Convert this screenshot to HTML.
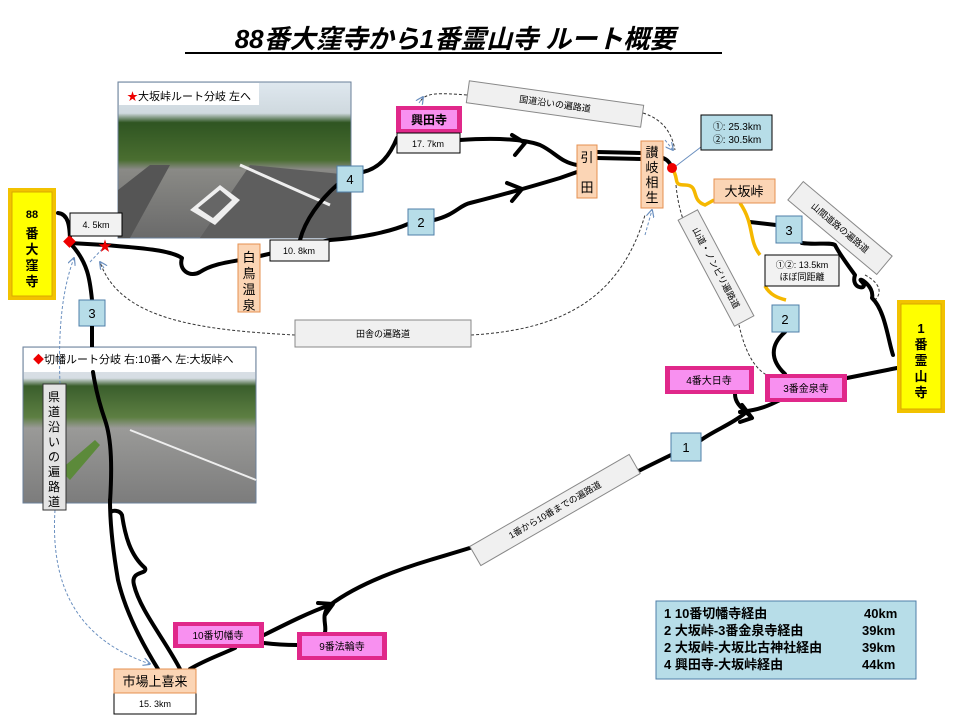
<!DOCTYPE html>
<html><head><meta charset="utf-8"><style>
html,body{margin:0;padding:0;background:#fff;}
svg{display:block;font-family:"Liberation Sans","Noto Sans CJK JP",sans-serif;}
</style></head><body>
<svg width="960" height="720" viewBox="0 0 960 720" xmlns="http://www.w3.org/2000/svg">
<defs>
<linearGradient id="sky" x1="0" y1="0" x2="0" y2="1">
<stop offset="0" stop-color="#dfe8ef"/><stop offset="0.2" stop-color="#cfd9df"/>
<stop offset="0.26" stop-color="#2f5522"/><stop offset="0.5" stop-color="#4a6e30"/>
<stop offset="0.56" stop-color="#8a8a86"/><stop offset="1" stop-color="#6a6a6a"/></linearGradient>
<linearGradient id="sky2" x1="0" y1="0" x2="0" y2="1">
<stop offset="0" stop-color="#e2e8ee"/><stop offset="0.2" stop-color="#d6dde3"/>
<stop offset="0.25" stop-color="#3a5e2c"/><stop offset="0.45" stop-color="#5d7f42"/>
<stop offset="0.52" stop-color="#9a9a98"/><stop offset="1" stop-color="#7c7c7c"/></linearGradient>
<marker id="ar" viewBox="0 0 10 10" refX="9" refY="5" markerWidth="8" markerHeight="8" orient="auto"><path d="M0,0 L10,5 L0,10" fill="none" stroke="#6a8fbf" stroke-width="1.5"/></marker>
</defs>

<text x="455" y="48" text-anchor="middle" font-size="26" font-weight="bold" font-style="italic">88番大窪寺から1番霊山寺  ルート概要</text>
<line x1="185" y1="53" x2="722" y2="53" stroke="#000" stroke-width="2"/>

<!-- photo 1 -->
<rect x="118" y="82" width="233" height="156" fill="url(#sky)" stroke="#6a7f99"/>
<path d="M118,190 L150,165 L170,165 L130,238 L118,238 Z" fill="#555"/>
<path d="M200,238 L250,165 L351,175 L351,238 Z" fill="#5e5e5e"/>
<path d="M190,210 L220,185 L240,200 L215,225 Z" fill="#eee"/><path d="M198,208 L220,190 L232,200 L213,218Z" fill="#666"/>
<path d="M240,165 L330,205" stroke="#eee" stroke-width="3"/>
<rect x="119" y="83" width="140" height="22" fill="#fff"/>
<text x="127" y="100" font-size="11"><tspan fill="#e00">★</tspan>大坂峠ルート分岐 左へ</text>

<!-- photo 2 -->
<rect x="23" y="347" width="233" height="156" fill="url(#sky2)" stroke="#6a7f99"/>
<path d="M130,430 L256,480" stroke="#eee" stroke-width="2"/>
<path d="M60,470 L95,440 L100,445 L70,480Z" fill="#5c8a3a"/>
<rect x="24" y="348" width="231" height="24" fill="#fff"/>
<text x="33" y="363" font-size="11"><tspan fill="#e00">◆</tspan>切幡ルート分岐 右:10番へ 左:大坂峠へ</text>

<!-- dashed connectors -->
<g fill="none" stroke="#333" stroke-width="1" stroke-dasharray="3,2">
<path d="M467,95 C440,93 425,92 420,102"/>
<path d="M643,113 C665,120 672,135 675,150"/>
<path d="M295,335 C200,330 120,320 100,262"/>
<path d="M471,335 C560,330 620,300 645,215"/>
<path d="M676,185 C680,230 700,250 705,270"/>
<path d="M737,315 C745,360 760,375 775,378"/>
<path d="M818,195 C810,195 805,205 800,210"/>
<path d="M865,275 C875,280 885,290 875,300"/>
</g>
<g fill="none" stroke="#6a8fbf" stroke-width="1" stroke-dasharray="3,2">
<path d="M60,384 C58,330 62,290 74,258" marker-end="url(#ar)"/>
<path d="M55,510 C50,590 80,640 150,664" marker-end="url(#ar)"/>
<path d="M90,262 L105,246"/>
<path d="M645,235 L652,210" marker-end="url(#ar)"/>
<path d="M419,103 L423,97" marker-end="url(#ar)"/>
<path d="M665,140 L673,150" marker-end="url(#ar)"/>
<path d="M104,268 L100,262" marker-end="url(#ar)"/>
</g>
<line x1="701" y1="147" x2="676" y2="166" stroke="#6a8fbf" stroke-width="1"/>

<!-- black roads -->
<g fill="none" stroke="#000" stroke-width="4" stroke-linecap="round" stroke-linejoin="round">
<path d="M58,213 C68,214 70,225 70,243 L105,245 C140,248 170,250 182,258 C178,270 190,278 200,272 C215,262 235,262 260,256 L330,240 C360,238 390,232 408,224 M434,220 C455,215 460,205 470,203 C490,198 520,190 560,178 L577,172"/>
<path d="M507,183 L522,189 L512,201"/>
<path d="M300,240 C305,220 320,200 337,185 M363,172 C380,168 390,155 397,138"/>
<path d="M460,140 C490,138 520,138 540,145 C555,152 560,162 577,165"/>
<path d="M512,135 L525,143 L515,155"/>
<path d="M597,152 L641,153 M597,158 L641,159 M663,158 C668,160 670,163 672,168"/>
<path d="M750,222 L776,225 M802,243 C815,245 830,242 835,245 C840,255 850,268 855,275 C850,290 870,290 862,282 C855,275 875,285 872,298 C885,310 888,340 893,355"/>
<path d="M785,332 C770,345 770,360 785,374 M847,378 L897,368"/>
<path d="M780,400 C770,405 760,410 740,412 M735,394 C735,405 745,410 752,418 M742,405 L752,418 L740,422"/>
<path d="M744,414 C730,425 715,430 701,440 M671,455 C640,470 620,480 545,520 C500,540 470,548 430,560 C380,575 350,590 330,605 C320,615 327,625 325,632"/>
<path d="M318,603 L333,604 L325,615"/>
<path d="M264,635 C290,622 310,612 330,605 M264,643 C280,645 290,645 297,645"/>
<path d="M235,648 C220,655 205,660 190,669"/>
<path d="M158,669 C140,640 125,610 118,580 C112,545 110,520 110,500"/>
<path d="M92,300 C90,280 88,262 70,243"/>
<path d="M180,669 C165,640 140,610 134,585 C130,570 148,575 145,568 C130,555 125,535 122,515 C120,510 112,510 111,512"/>
</g>
<!-- yellow -->
<path d="M672,168 C680,180 672,185 685,185 C700,185 690,200 705,205 L714,200 M740,203 C755,225 748,240 760,255 M765,286 C770,295 778,298 786,300" fill="none" stroke="#f5b800" stroke-width="3.5"/>
<circle cx="672" cy="168" r="5" fill="#e00"/>
<rect x="65" y="237" width="9" height="9" fill="#e00" transform="rotate(45 69.5 241.5)"/>
<text x="98" y="251" font-size="14" fill="#e00">★</text>

<!-- yellow temple boxes -->
<rect x="8" y="188" width="48" height="112" fill="#f2c200"/><rect x="12" y="192" width="40" height="104" fill="#ffff00" stroke="#d8a800"/>
<text x="32" y="218" font-size="11" font-weight="bold" text-anchor="middle">88</text>
<text x="32" y="238" font-size="13" font-weight="bold" text-anchor="middle">番</text>
<text x="32" y="254" font-size="13" font-weight="bold" text-anchor="middle">大</text>
<text x="32" y="270" font-size="13" font-weight="bold" text-anchor="middle">窪</text>
<text x="32" y="286" font-size="13" font-weight="bold" text-anchor="middle">寺</text>
<rect x="897" y="300" width="48" height="113" fill="#f2c200"/><rect x="901" y="304" width="40" height="105" fill="#ffff00" stroke="#d8a800"/>
<g font-size="13" font-weight="bold" text-anchor="middle">
<text x="921" y="333">1</text><text x="921" y="349">番</text><text x="921" y="365">霊</text><text x="921" y="381">山</text><text x="921" y="397">寺</text></g>

<!-- magenta temples -->
<g font-size="10">
<rect x="396" y="106" width="66" height="27" fill="#e0288a"/><rect x="401" y="110" width="56" height="19" fill="#f890f0"/>
<text x="429" y="124" text-anchor="middle" font-size="12" font-weight="bold">興田寺</text>
<rect x="665" y="366" width="89" height="28" fill="#e0288a"/><rect x="670" y="370" width="79" height="20" fill="#f890f0"/>
<text x="709" y="384" text-anchor="middle">4番大日寺</text>
<rect x="765" y="374" width="82" height="28" fill="#e0288a"/><rect x="770" y="378" width="72" height="20" fill="#f890f0"/>
<text x="806" y="392" text-anchor="middle">3番金泉寺</text>
<rect x="173" y="622" width="91" height="26" fill="#e0288a"/><rect x="178" y="626" width="81" height="18" fill="#f890f0"/>
<text x="218" y="639" text-anchor="middle">10番切幡寺</text>
<rect x="297" y="632" width="90" height="28" fill="#e0288a"/><rect x="302" y="636" width="80" height="20" fill="#f890f0"/>
<text x="342" y="650" text-anchor="middle">9番法輪寺</text>
</g>

<!-- distance boxes -->
<g font-size="9" text-anchor="middle" stroke-width="1">
<rect x="70" y="213" width="52" height="23" fill="#f2f2f2" stroke="#000"/><text x="96" y="228">4. 5km</text>
<rect x="397" y="133" width="63" height="20" fill="#f2f2f2" stroke="#000"/><text x="428" y="147">17. 7km</text>
<rect x="270" y="240" width="59" height="21" fill="#f2f2f2" stroke="#000"/><text x="299" y="254">10. 8km</text>
<rect x="114" y="693" width="82" height="21" fill="#fff" stroke="#000"/><text x="155" y="707">15. 3km</text>
<rect x="765" y="255" width="74" height="31" fill="#f2f2f2" stroke="#000"/><text x="802" y="268">①②: 13.5km</text><text x="802" y="280">ほぼ同距離</text>
<rect x="701" y="115" width="71" height="35" fill="#b7dde8" stroke="#000"/><text x="737" y="130" font-size="10">①: 25.3km</text><text x="737" y="143" font-size="10">②: 30.5km</text>
</g>

<!-- orange place boxes -->
<g fill="#fbd5b5" stroke="#e69050">
<rect x="238" y="244" width="22" height="68"/><rect x="577" y="145" width="20" height="53"/>
<rect x="641" y="141" width="22" height="67"/><rect x="714" y="179" width="61" height="24"/>
<rect x="114" y="669" width="82" height="24"/></g>
<g font-size="13" text-anchor="middle">
<text x="249" y="262">白</text><text x="249" y="278">鳥</text><text x="249" y="294">温</text><text x="249" y="310">泉</text>
<text x="587" y="162">引</text><text x="587" y="192">田</text>
<text x="652" y="157">讃</text><text x="652" y="172">岐</text><text x="652" y="187">相</text><text x="652" y="202">生</text>
<text x="744" y="196">大坂峠</text><text x="155" y="686">市場上喜来</text></g>

<!-- number boxes -->
<g fill="#b7dde8" stroke="#4f7fa8">
<rect x="337" y="166" width="26" height="26"/><rect x="408" y="209" width="26" height="26"/>
<rect x="79" y="300" width="26" height="26"/><rect x="671" y="433" width="30" height="28"/>
<rect x="776" y="216" width="26" height="27"/><rect x="772" y="305" width="27" height="27"/></g>
<g font-size="13" text-anchor="middle">
<text x="350" y="184">4</text><text x="421" y="227">2</text><text x="92" y="318">3</text>
<text x="686" y="452">1</text><text x="789" y="235">3</text><text x="785" y="324">2</text></g>

<!-- grey road labels -->
<g fill="#f0f0f0" stroke="#888" font-size="9" text-anchor="middle">
<g transform="translate(555,104) rotate(8)"><rect x="-88" y="-11" width="176" height="22"/><text y="3" fill="#000" stroke="none">国道沿いの遍路道</text></g>
<rect x="295" y="320" width="176" height="27"/><text x="383" y="337" fill="#000" stroke="none">田舎の遍路道</text>
<g transform="translate(840,228) rotate(40)"><rect x="-58" y="-12" width="116" height="24"/><text y="3" fill="#000" stroke="none">山間道路の遍路道</text></g>
<g transform="translate(716,268) rotate(62)"><rect x="-60" y="-11" width="120" height="22"/><text y="3" fill="#000" stroke="none">山道・ノンビリ遍路道</text></g>
<g transform="translate(555,510) rotate(-30)"><rect x="-92" y="-11" width="184" height="22"/><text y="3" fill="#000" stroke="none">1番から10番までの遍路道</text></g>
<rect x="43" y="384" width="23" height="126" fill="#e4e4e4" stroke="#333"/>
</g>
<g font-size="12" text-anchor="middle">
<text x="54" y="401">県</text><text x="54" y="416">道</text><text x="54" y="431">沿</text><text x="54" y="446">い</text><text x="54" y="461">の</text><text x="54" y="476">遍</text><text x="54" y="491">路</text><text x="54" y="506">道</text></g>

<!-- road through photo 2 (on top) -->
<path d="M110,502 C112,470 112,440 105,420 C98,400 95,385 93,372" fill="none" stroke="#000" stroke-width="4" stroke-linecap="round"/>
<path d="M92,326 L92,347" fill="none" stroke="#000" stroke-width="4"/>

<!-- legend -->
<rect x="656" y="601" width="260" height="78" fill="#b7dde8" stroke="#4f7fa8"/>
<g font-size="13" font-weight="bold">
<text x="664" y="618">1  10番切幡寺経由</text><text x="864" y="618">40km</text>
<text x="664" y="635">2  大坂峠-3番金泉寺経由</text><text x="862" y="635">39km</text>
<text x="664" y="652">2  大坂峠-大坂比古神社経由</text><text x="862" y="652">39km</text>
<text x="664" y="669">4  興田寺-大坂峠経由</text><text x="862" y="669">44km</text>
</g>
</svg>
</body></html>
